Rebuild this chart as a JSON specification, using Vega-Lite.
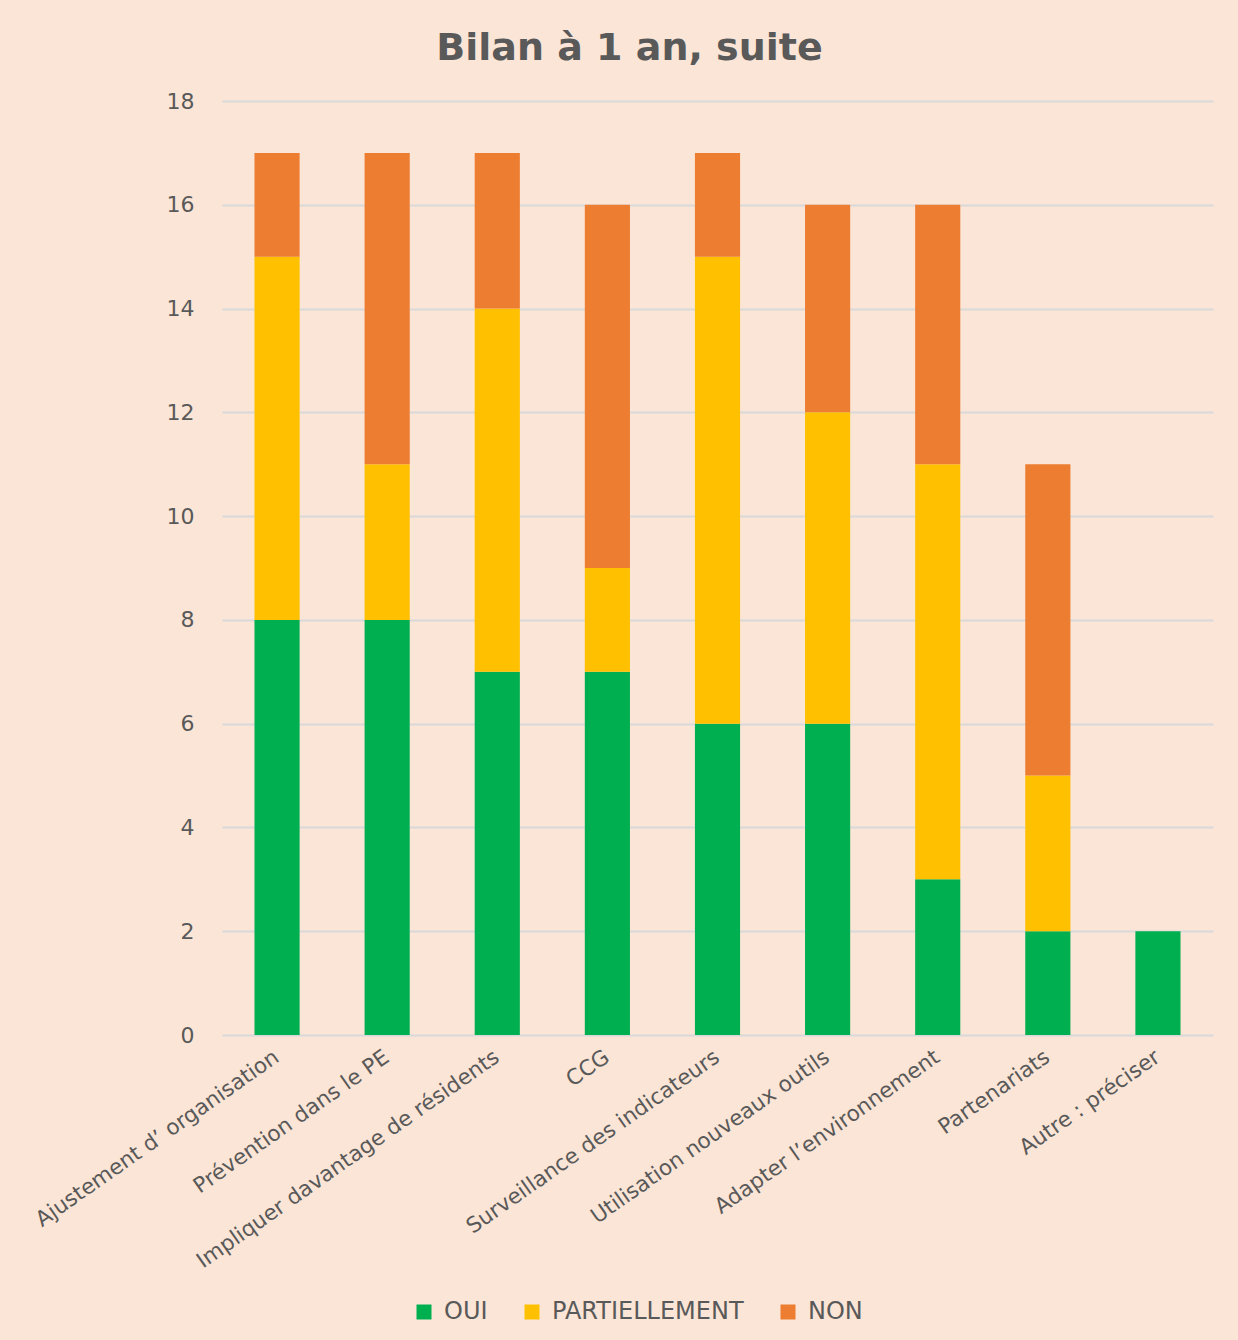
{
  "$schema": "https://vega.github.io/schema/vega-lite/v6.json",
  "autosize": {"type": "none"},
  "width": 991,
  "height": 934,
  "padding": {"left": 222, "top": 101, "right": 25, "bottom": 305},
  "background": "#FBE5D6",
  "title": {
    "text": "Bilan à 1 an, suite",
    "font": "DejaVu Sans",
    "fontSize": 38,
    "fontWeight": "bold",
    "color": "#595959",
    "anchor": "middle",
    "dx": -88,
    "offset": 22
  },
  "data": {
    "values": [
      {"cat": "Ajustement d’ organisation", "rep": "OUI", "n": 8, "ord": 1},
      {"cat": "Ajustement d’ organisation", "rep": "PARTIELLEMENT", "n": 7, "ord": 2},
      {"cat": "Ajustement d’ organisation", "rep": "NON", "n": 2, "ord": 3},
      {"cat": "Prévention dans le PE", "rep": "OUI", "n": 8, "ord": 1},
      {"cat": "Prévention dans le PE", "rep": "PARTIELLEMENT", "n": 3, "ord": 2},
      {"cat": "Prévention dans le PE", "rep": "NON", "n": 6, "ord": 3},
      {"cat": "Impliquer davantage de résidents", "rep": "OUI", "n": 7, "ord": 1},
      {"cat": "Impliquer davantage de résidents", "rep": "PARTIELLEMENT", "n": 7, "ord": 2},
      {"cat": "Impliquer davantage de résidents", "rep": "NON", "n": 3, "ord": 3},
      {"cat": "CCG", "rep": "OUI", "n": 7, "ord": 1},
      {"cat": "CCG", "rep": "PARTIELLEMENT", "n": 2, "ord": 2},
      {"cat": "CCG", "rep": "NON", "n": 7, "ord": 3},
      {"cat": "Surveillance des indicateurs", "rep": "OUI", "n": 6, "ord": 1},
      {"cat": "Surveillance des indicateurs", "rep": "PARTIELLEMENT", "n": 9, "ord": 2},
      {"cat": "Surveillance des indicateurs", "rep": "NON", "n": 2, "ord": 3},
      {"cat": "Utilisation nouveaux outils", "rep": "OUI", "n": 6, "ord": 1},
      {"cat": "Utilisation nouveaux outils", "rep": "PARTIELLEMENT", "n": 6, "ord": 2},
      {"cat": "Utilisation nouveaux outils", "rep": "NON", "n": 4, "ord": 3},
      {"cat": "Adapter l’environnement", "rep": "OUI", "n": 3, "ord": 1},
      {"cat": "Adapter l’environnement", "rep": "PARTIELLEMENT", "n": 8, "ord": 2},
      {"cat": "Adapter l’environnement", "rep": "NON", "n": 5, "ord": 3},
      {"cat": "Partenariats", "rep": "OUI", "n": 2, "ord": 1},
      {"cat": "Partenariats", "rep": "PARTIELLEMENT", "n": 3, "ord": 2},
      {"cat": "Partenariats", "rep": "NON", "n": 6, "ord": 3},
      {"cat": "Autre : préciser", "rep": "OUI", "n": 2, "ord": 1}
    ]
  },
  "mark": {"type": "bar"},
  "encoding": {
    "x": {
      "field": "cat",
      "type": "nominal",
      "sort": null,
      "title": null,
      "scale": {"paddingInner": 0.59, "paddingOuter": 0.295},
      "axis": {
        "labelAngle": -35,
        "labelAlign": "right",
        "labelBaseline": "middle",
        "labelFont": "DejaVu Sans",
        "labelFontSize": 21.5,
        "labelColor": "#595959",
        "labelPadding": 20,
        "labelLimit": 600,
        "ticks": false,
        "domain": false,
        "grid": false
      }
    },
    "y": {
      "field": "n",
      "type": "quantitative",
      "stack": "zero",
      "title": null,
      "scale": {"domain": [0, 18], "nice": false},
      "axis": {
        "values": [0, 2, 4, 6, 8, 10, 12, 14, 16, 18],
        "labelFont": "DejaVu Sans",
        "labelFontSize": 22,
        "labelColor": "#595959",
        "labelPadding": 28,
        "ticks": false,
        "domain": false,
        "grid": true,
        "gridColor": "#D9D9D9",
        "gridWidth": 2
      }
    },
    "color": {
      "field": "rep",
      "type": "nominal",
      "scale": {
        "domain": ["OUI", "PARTIELLEMENT", "NON"],
        "range": ["#00B050", "#FFC000", "#ED7D31"]
      },
      "legend": {
        "title": null,
        "orient": "none",
        "direction": "horizontal",
        "legendX": 190,
        "legendY": 1199,
        "symbolType": "square",
        "symbolSize": 225,
        "symbolStrokeWidth": 0,
        "labelFont": "DejaVu Sans",
        "labelFontSize": 24,
        "labelColor": "#595959",
        "labelOffset": 8,
        "labelLimit": 400,
        "columnPadding": 32
      }
    },
    "order": {"field": "ord", "type": "quantitative"}
  },
  "config": {
    "view": {"stroke": null}
  }
}
